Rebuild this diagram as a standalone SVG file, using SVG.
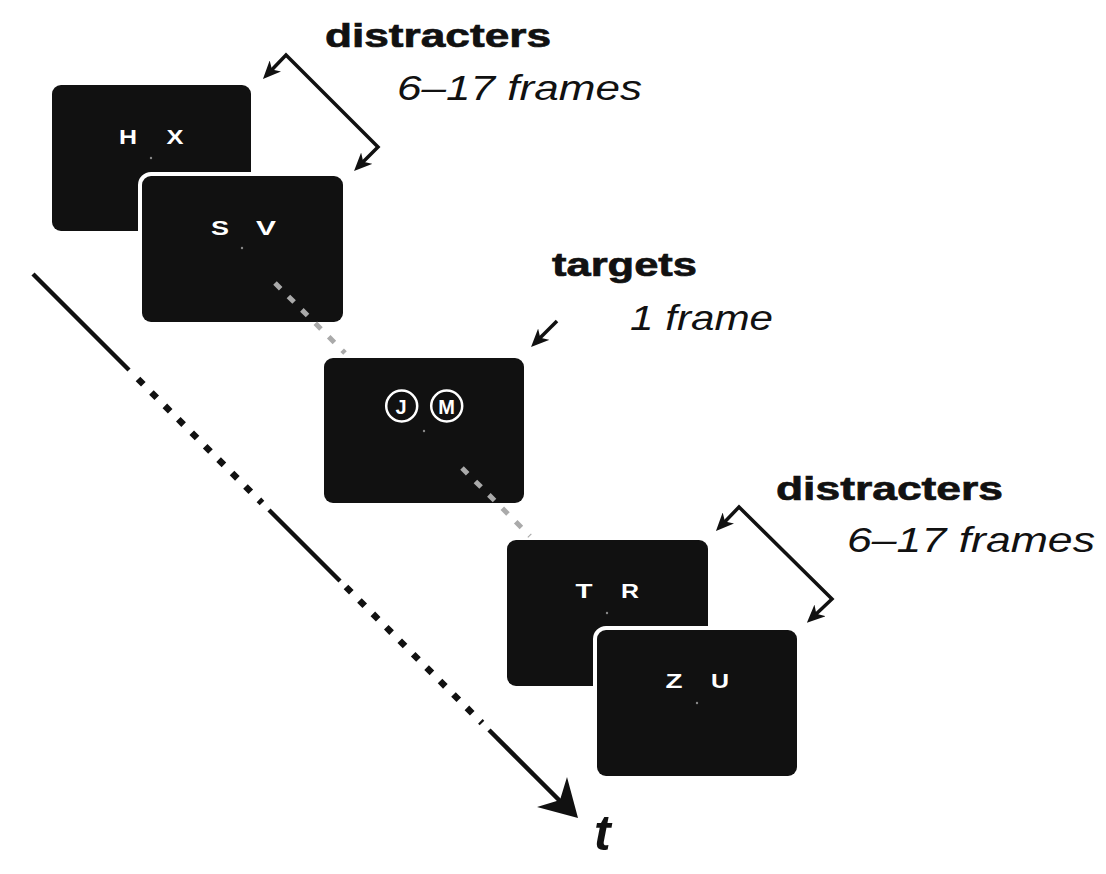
<svg xmlns="http://www.w3.org/2000/svg" width="1106" height="874" viewBox="0 0 1106 874">
<style>
.box{fill:#111;}
.front{fill:#111;stroke:#fff;stroke-width:8;paint-order:stroke;}
.ltr{font-family:"Liberation Sans",Arial,sans-serif;font-weight:bold;font-size:21px;fill:#fff;text-anchor:middle;}
.fix{fill:#888;}
.ring{fill:none;stroke:#fff;stroke-width:2.5;}
.lbl{font-family:"Liberation Sans",Arial,sans-serif;font-weight:bold;font-size:34px;fill:#111;stroke:#111;stroke-width:0.7;}
.dur{font-family:"Liberation Sans",Arial,sans-serif;font-style:italic;font-size:35px;fill:#111;}
.brk{fill:none;stroke:#111;stroke-width:3.5;stroke-linejoin:miter;marker-start:url(#ah);marker-end:url(#ah);}
.one{fill:none;stroke:#111;stroke-width:3.5;marker-end:url(#ah);}
.gray{stroke:#aaa;stroke-width:5;stroke-dasharray:8 11;fill:none;}
.axis{stroke:#111;stroke-width:4.5;fill:none;}
.dots{stroke:#111;stroke-width:6.5;stroke-dasharray:7.5 11.5;fill:none;}
</style>
<defs>
<marker id="ah" markerUnits="userSpaceOnUse" viewBox="0 0 18 16" refX="10" refY="8" markerWidth="18" markerHeight="16" orient="auto-start-reverse">
<path d="M0,0 L18,8 L0,16 L5,8 Z" fill="#111"/>
</marker>
</defs>
<rect width="1106" height="874" fill="#fff"/>

<g id="node-hx">
<rect class="box" x="52" y="85" width="199" height="146" rx="9"/>
<text class="ltr" x="128" y="144" textLength="18" lengthAdjust="spacingAndGlyphs">H</text>
<text class="ltr" x="175" y="144" textLength="17" lengthAdjust="spacingAndGlyphs">X</text>
<circle class="fix" cx="151" cy="158" r="1.2"/>
</g>
<g id="node-sv">
<rect class="front" x="142" y="176" width="201" height="146" rx="9"/>
<text class="ltr" x="220" y="235" textLength="18" lengthAdjust="spacingAndGlyphs">S</text>
<text class="ltr" x="266" y="235" textLength="20" lengthAdjust="spacingAndGlyphs">V</text>
<circle class="fix" cx="242" cy="248" r="1.2"/>
</g>
<g id="node-jm">
<rect class="box" x="324" y="358" width="200" height="145" rx="9"/>
<circle class="ring" cx="401.7" cy="406" r="15.5"/>
<circle class="ring" cx="446.7" cy="406" r="15.5"/>
<text class="ltr" x="401" y="413.5" style="font-size:20px">J</text>
<text class="ltr" x="446.7" y="413.5" style="font-size:20px">M</text>
<circle class="fix" cx="424" cy="431" r="1.2"/>
</g>
<g id="node-tr">
<rect class="box" x="507" y="540" width="201" height="146" rx="9"/>
<text class="ltr" x="584" y="598" textLength="17" lengthAdjust="spacingAndGlyphs">T</text>
<text class="ltr" x="630" y="598" textLength="18" lengthAdjust="spacingAndGlyphs">R</text>
<circle class="fix" cx="607" cy="613" r="1.2"/>
</g>
<g id="node-zu">
<rect class="front" x="597" y="630" width="200" height="146" rx="9"/>
<text class="ltr" x="674" y="688" textLength="17" lengthAdjust="spacingAndGlyphs">Z</text>
<text class="ltr" x="720" y="688" textLength="18" lengthAdjust="spacingAndGlyphs">U</text>
<circle class="fix" cx="697" cy="703" r="1.2"/>
</g>

<g id="labels">
<text class="lbl" x="325" y="47" textLength="226" lengthAdjust="spacingAndGlyphs">distracters</text>
<text class="dur" x="397" y="100" textLength="245" lengthAdjust="spacingAndGlyphs">6–17 frames</text>
<text class="lbl" x="552" y="276" textLength="145" lengthAdjust="spacingAndGlyphs">targets</text>
<text class="dur" x="630" y="330" textLength="143" lengthAdjust="spacingAndGlyphs">1 frame</text>
<text class="lbl" x="776" y="500" textLength="227" lengthAdjust="spacingAndGlyphs">distracters</text>
<text class="dur" x="847" y="552" textLength="248" lengthAdjust="spacingAndGlyphs">6–17 frames</text>
<text x="594" y="850" style="font-family:'Liberation Sans',Arial,sans-serif;font-weight:bold;font-style:italic;font-size:50px;fill:#111">t</text>
</g>

<g id="connectors">
<path class="gray" d="M275,283 L345,353"/>
<path class="gray" d="M462,468 L530,536"/>
<path class="brk" d="M268.5,73.2 L286,55 L378,147 L359.7,165.3"/>
<path class="brk" d="M721.5,525.2 L739,507 L832,599 L812.7,617.3"/>
<path class="one" d="M557,321 L536.7,341.3"/>
<path class="axis" d="M33,274 L129,370"/>
<path class="dots" d="M138,379 L262,503"/>
<path class="axis" d="M269,510 L340,581"/>
<path class="dots" d="M346,587 L482,723"/>
<path class="axis" d="M489,730 L562,803"/>
<path d="M578,818 L537,807 L560,800 L567,777 Z" fill="#111"/>
</g>
</svg>
